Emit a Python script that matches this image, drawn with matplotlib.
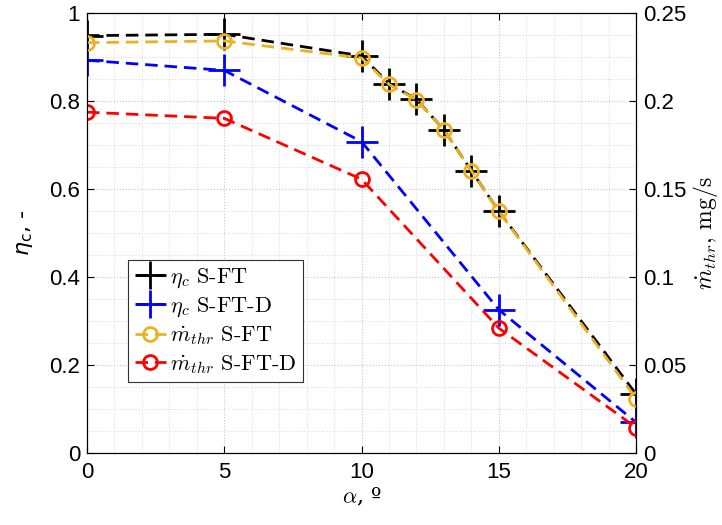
import matplotlib
matplotlib.use("Agg")
import matplotlib.pyplot as plt
from matplotlib.ticker import MultipleLocator

# ---- data ----
alpha_sft = [0, 5, 10, 11, 12, 13, 14, 15, 20]
eta_sft = [0.948, 0.951, 0.902, 0.839, 0.803, 0.734, 0.641, 0.549, 0.133]
mdot_sft = [0.2330, 0.2340, 0.2243, 0.2093, 0.2005, 0.1835, 0.1602, 0.1372, 0.0308]

alpha_sftd = [0, 5, 10, 15, 20]
eta_sftd = [0.892, 0.869, 0.707, 0.325, 0.069]
mdot_sftd = [0.1935, 0.1900, 0.1554, 0.0708, 0.0143]

xticks = [0, 5, 10, 15, 20]
xtick_labels = ["0", "5", "10", "15", "20"]
yticks_left = [0, 0.2, 0.4, 0.6, 0.8, 1.0]
ytick_labels_left = ["0", "0.2", "0.4", "0.6", "0.8", "1"]
yticks_right = [0, 0.05, 0.10, 0.15, 0.20, 0.25]
ytick_labels_right = ["0", "0.05", "0.1", "0.15", "0.2", "0.25"]

labels = [r"$\eta_c$ S-FT", r"$\eta_c$ S-FT-D",
          r"$\dot{m}_{thr}$ S-FT", r"$\dot{m}_{thr}$ S-FT-D"]

# ---- style ----
plt.rcParams["mathtext.fontset"] = "cm"
plt.rcParams["axes.unicode_minus"] = False
tick_font = "Liberation Sans"
TICK_FS = 16

fig = plt.figure(figsize=(7.22, 5.25), dpi=100)
ax = fig.add_axes([0.1205, 0.1377, 0.7605, 0.838])
ax2 = ax.twinx()

dash = (0, (4.5, 2.5))
ORANGE = (0.929, 0.694, 0.125)

l1, = ax.plot(alpha_sft, eta_sft, color="black", lw=2, ls=dash,
              marker="+", ms=23, mew=2)
l2, = ax.plot(alpha_sftd, eta_sftd, color="blue", lw=2, ls=dash,
              marker="+", ms=23, mew=2)
l3, = ax2.plot(alpha_sft, mdot_sft, color=ORANGE, lw=2, ls=dash,
               marker="o", ms=10, mew=2, mfc="none")
l4, = ax2.plot(alpha_sftd, mdot_sftd, color="red", lw=2, ls=dash,
               marker="o", ms=10, mew=2, mfc="none")

ax.set_xlim(0, 20)
ax.set_ylim(0, 1)
ax2.set_ylim(0, 0.25)

ax.set_xticks(xticks)
ax.set_xticklabels(xtick_labels, fontfamily=tick_font, fontsize=TICK_FS)
ax.set_yticks(yticks_left)
ax.set_yticklabels(ytick_labels_left, fontfamily=tick_font, fontsize=TICK_FS)
ax2.set_yticks(yticks_right)
ax2.set_yticklabels(ytick_labels_right, fontfamily=tick_font, fontsize=TICK_FS)

ax.xaxis.set_minor_locator(MultipleLocator(1))
ax.yaxis.set_minor_locator(MultipleLocator(0.05))
ax.grid(True, which="major", ls=":", color="0.78", lw=0.8)
ax.grid(True, which="minor", ls=":", color="0.85", lw=0.7)
ax.set_axisbelow(True)

for a in (ax, ax2):
    a.tick_params(which="both", direction="in", length=5, width=0.8, pad=5)
    a.tick_params(which="minor", length=0)
    for s in a.spines.values():
        s.set_linewidth(0.8)
ax.tick_params(top=True, which="major")
ax.tick_params(axis="x", pad=7)

ax.set_xlabel(r"$\alpha$, º", fontfamily=["DejaVu Serif"], fontsize=16, labelpad=2)
ax.set_ylabel(r"$\eta_{\rm c}$, -", fontsize=16, math_fontfamily="dejavusans",
              labelpad=10)
ax2.set_ylabel(r"$\dot{m}_{thr}$, mg/s", fontfamily="cmr10", fontsize=17,
               labelpad=3)

leg = ax2.legend([l1, l2, l3, l4], labels, loc="lower left",
                 bbox_to_anchor=(0.075, 0.16),
                 prop={"family": "cmr10", "size": 16},
                 frameon=True, fancybox=False, edgecolor="0.2",
                 framealpha=1, borderpad=0.3, labelspacing=0.25,
                 handlelength=1.4, handletextpad=0.2, borderaxespad=0)
leg.get_frame().set_linewidth(0.8)
for h in leg.legend_handles:
    h.set_markersize(20 if h.get_marker() == "+" else 10)

fig.savefig("out.png", dpi=100)
